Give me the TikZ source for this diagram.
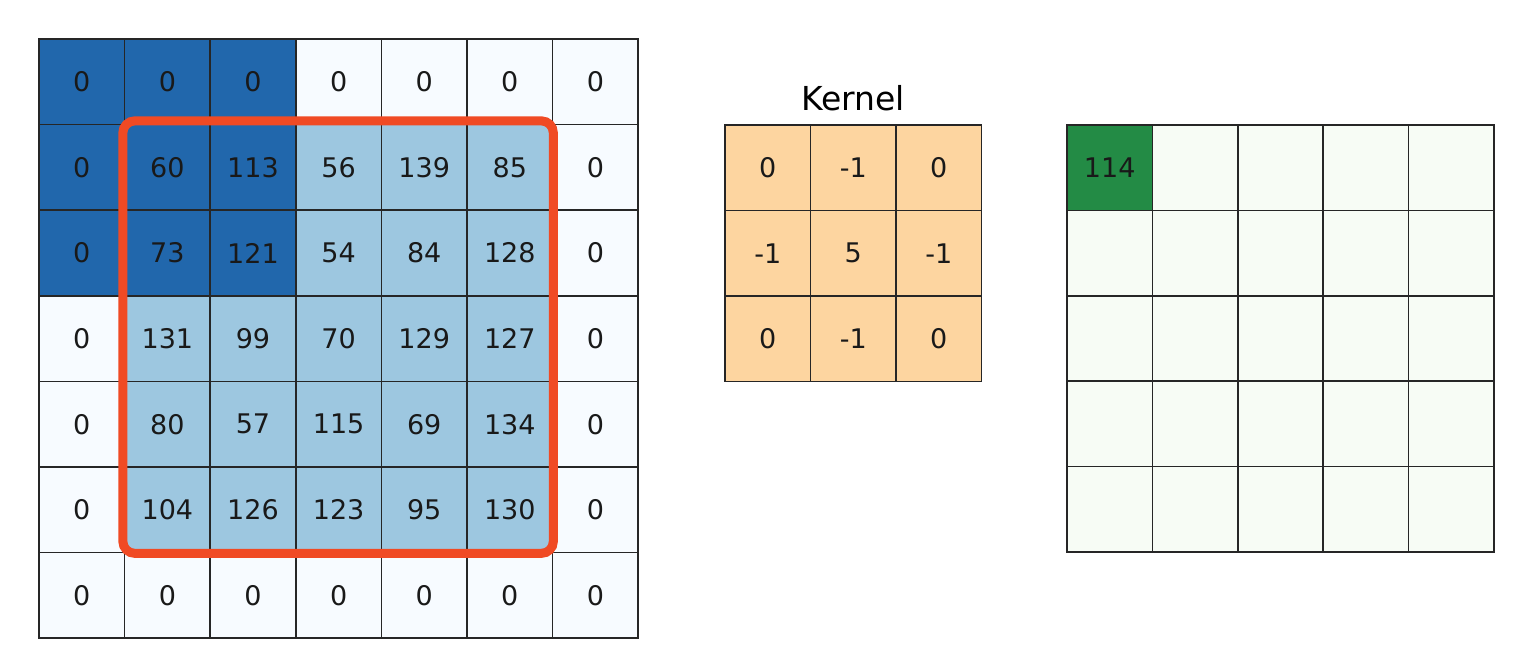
\documentclass[tikz,border=0pt]{standalone}
\usepackage{fontspec}
\setmainfont{DejaVu Sans}
\usetikzlibrary{positioning}

\definecolor{darkblue}{RGB}{33,103,172}
\definecolor{lightblue}{RGB}{157,199,224}
\definecolor{paleblue}{RGB}{247,251,255}
\definecolor{kernelorange}{RGB}{253,213,160}
\definecolor{darkgreen}{RGB}{35,139,69}
\definecolor{palegreen}{RGB}{247,252,245}
\definecolor{windowred}{RGB}{240,74,36}

\tikzset{
  cell/.style={draw=black!85, line width=0.75pt, minimum size=42.8pt, inner sep=0pt,
    font=\fontsize{13.5}{16}\selectfont, text=black!90},
  kcell/.style={cell, fill=kernelorange, minimum size=42.75pt},
  ocell/.style={cell, fill=palegreen, minimum size=42.7pt},
  window/.style={draw=windowred, line width=4.5pt, rounded corners=6pt}
}

\begin{document}
\begin{tikzpicture}[x=0.5pt,y=-0.5pt]
  \useasboundingbox (0,0) rectangle (1530,670);

  % Entrada con relleno de ceros
  \foreach \row [count=\i from 0] in {
      {0,0,0,0,0,0,0},
      {0,60,113,56,139,85,0},
      {0,73,121,54,84,128,0},
      {0,131,99,70,129,127,0},
      {0,80,57,115,69,134,0},
      {0,104,126,123,95,130,0},
      {0,0,0,0,0,0,0}} {
    \foreach \val [count=\j from 0] in \row {
      \pgfmathsetmacro{\inwin}{(\i>0)*(\i<6)*(\j>0)*(\j<6)}
      \pgfmathsetmacro{\inpatch}{(\i<3)*(\j<3)}
      \ifdim\inpatch pt>0.5pt
        \def\cellfill{darkblue}
      \else
        \ifdim\inwin pt>0.5pt \def\cellfill{lightblue}\else \def\cellfill{paleblue}\fi
      \fi
      \node [cell, fill=\cellfill] (c\i\j) at ({39+85.6*(\j+0.5)},{39+85.6*(\i+0.5)}) {\val};
    }
  }

  % Ventana roja
  \draw [window] ([xshift=-0.5pt,yshift=1.5pt]c11.north west) rectangle (c55.south east);

  % Kernel
  \foreach \row [count=\i from 0] in {{0,-1,0},{-1,5,-1},{0,-1,0}} {
    \foreach \val [count=\j from 0] in \row {
      \node [kcell] (k\i\j) at ({725+85.5*(\j+0.5)},{125+85.5*(\i+0.5)}) {\val};
    }
  }
  \node [above=3pt of k01, font=\fontsize{16.5}{19}\selectfont] (ktitle) {Kernel};

  % Salida
  \foreach \i in {0,...,4} {
    \foreach \j in {0,...,4} {
      \node [ocell] (o\i\j) at ({1067+85.4*(\j+0.5)},{125+85.4*(\i+0.5)}) {};
    }
  }
  \node [ocell, fill=darkgreen] at (o00) {114};
\end{tikzpicture}
\end{document}
